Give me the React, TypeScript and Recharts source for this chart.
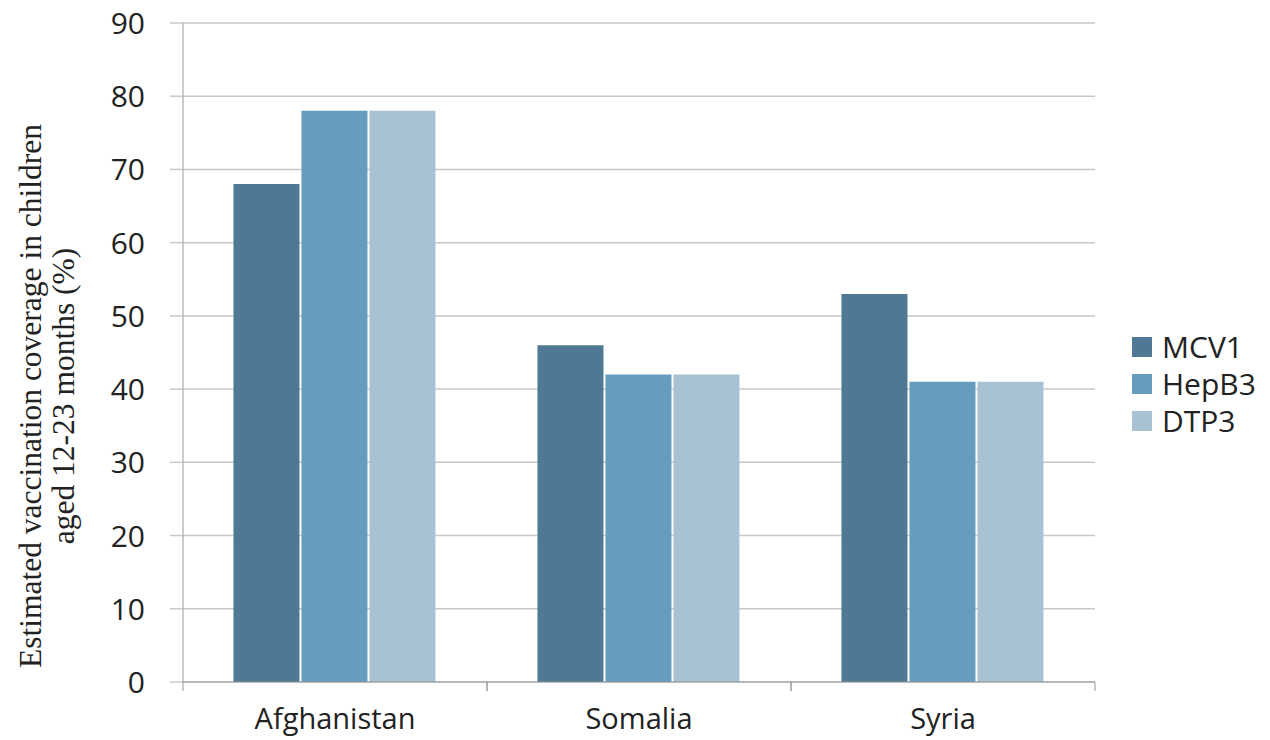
import React from 'react';
import { BarChart, Bar, XAxis, YAxis, CartesianGrid } from 'recharts';

const categories = ['Afghanistan', 'Somalia', 'Syria'];
const mcv1 = [68, 46, 53];
const hepb3 = [78, 42, 41];
const dtp3 = [78, 42, 41];
const yTicks = [0, 10, 20, 30, 40, 50, 60, 70, 80, 90];
const seriesNames = ['MCV1', 'HepB3', 'DTP3'];
const seriesColors = ['#4e7894', '#669cbd', '#a8c2d4'];

const data = categories.map((c, i) => ({ name: c, MCV1: mcv1[i], HepB3: hepb3[i], DTP3: dtp3[i] }));

const SANS = '"Open Sans", "Liberation Sans", sans-serif';
const SERIF = '"Liberation Serif", "Times New Roman", serif';

const XTick = (props: any) => {
  const { x, y, payload } = props;
  const half = 152;
  return (
    <g>
      <line x1={x - half} y1={y - 8} x2={x - half} y2={y + 1} stroke="#999" />
      <line x1={x + half} y1={y - 8} x2={x + half} y2={y + 1} stroke="#999" />
      <text x={x} y={y + 39} textAnchor="middle" fontFamily={SANS} fontSize={29} fill="#222">
        {payload.value}
      </text>
    </g>
  );
};

const YTick = (props: any) => {
  const { x, y, payload } = props;
  return (
    <text x={x - 23} y={y} dy={11} textAnchor="end" fontFamily={SANS} fontSize={30} fill="#222">
      {payload.value}
    </text>
  );
};

const YLabel = () => {
  const cy = 396;
  return (
    <g>
      <text transform={`translate(30, ${cy}) rotate(-90)`} textAnchor="middle" dominantBaseline="central"
        fontFamily={SERIF} fontSize={31.5} fill="#222">
        Estimated vaccination coverage in children
      </text>
      <text transform={`translate(63, ${cy}) rotate(-90)`} textAnchor="middle" dominantBaseline="central"
        fontFamily={SERIF} fontSize={31.5} fill="#222">
        aged 12-23 months (%)
      </text>
    </g>
  );
};

export default function App() {
  return (
    <div style={{ position: 'absolute', left: 0, top: 0, width: 1270, height: 740, background: '#fff' }}>
      <BarChart width={1270} height={740} data={data}
        margin={{ top: 23, right: 175, bottom: 28, left: 83 }}
        barCategoryGap="16.6%" barGap={2}>
        <CartesianGrid vertical={false} stroke="#c8c8c8" strokeWidth={1.5} />
        <XAxis dataKey="name" height={30} tick={<XTick />} tickLine={false} axisLine={{ stroke: '#999' }} interval={0} />
        <YAxis domain={[0, 90]} ticks={yTicks} width={100} tick={<YTick />}
          tickSize={13} tickLine={{ stroke: '#c8c8c8', strokeWidth: 1.5 }} axisLine={{ stroke: '#999' }} label={<YLabel />} />
        {seriesNames.map((n, i) => (
          <Bar key={n} dataKey={n} fill={seriesColors[i]} isAnimationActive={false} />
        ))}
      </BarChart>
      <div style={{ position: 'absolute', left: 1132, top: 328, fontFamily: SANS, fontSize: 30, color: '#222' }}>
        {seriesNames.map((n, i) => (
          <div key={n} style={{ display: 'flex', alignItems: 'center', height: 37 }}>
            <div style={{ width: 20, height: 20, background: seriesColors[i], marginRight: 10 }} />
            <span>{n}</span>
          </div>
        ))}
      </div>
    </div>
  );
}
